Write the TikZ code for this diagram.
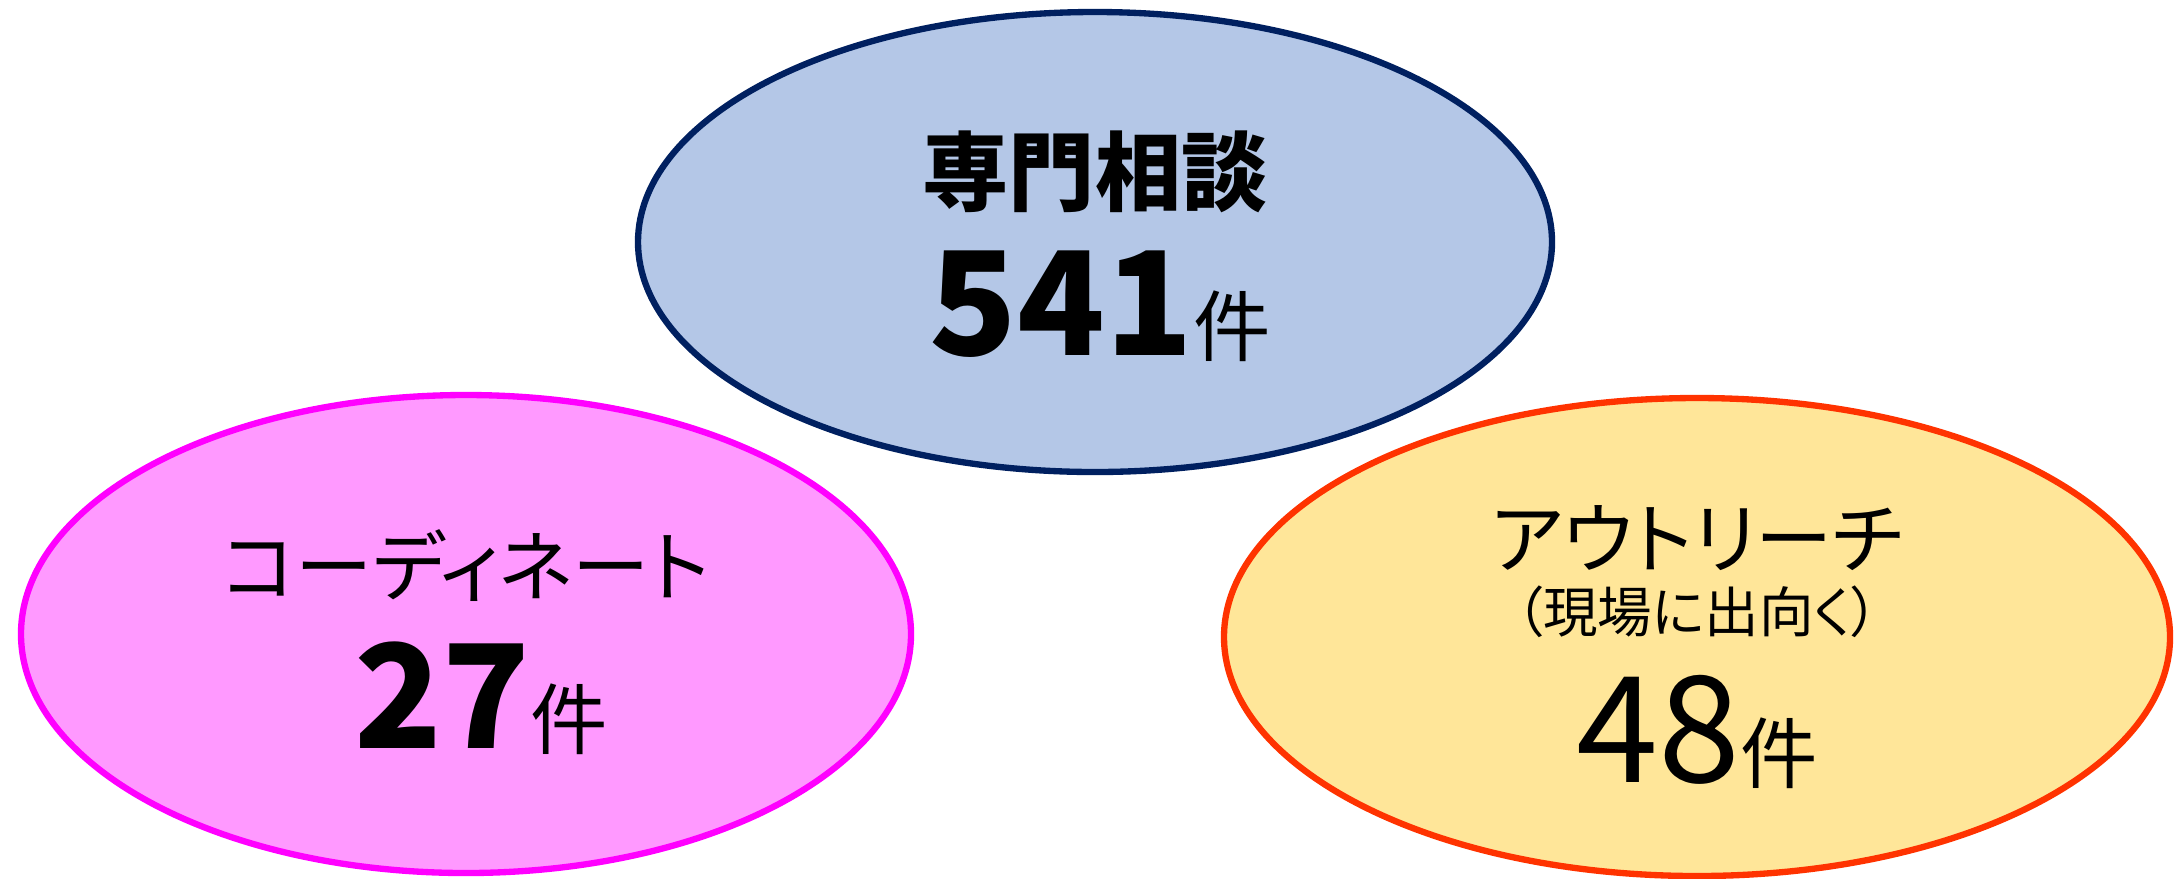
\documentclass[tikz,border=0pt]{standalone}
\usepackage{fontspec}
\setmainfont[RawFeature={+palt}]{Noto Sans CJK JP}
\usepackage{tikz}
\usetikzlibrary{calc}

\definecolor{navyline}{HTML}{002060}
\definecolor{bluefill}{HTML}{B4C7E7}
\definecolor{pinkline}{HTML}{FF00FF}
\definecolor{pinkfill}{HTML}{FF99FF}
\definecolor{redline}{HTML}{FF3300}
\definecolor{sandfill}{HTML}{FFE699}

\newcommand{\kenmark}{{\mdseries\fontsize{22}{22}\selectfont 件}}

\begin{document}
\begin{tikzpicture}[x=0.01cm,y=-0.01cm,
  blob/.style={line width=1.8pt},
  head/.style={inner sep=0pt,font=\bfseries\fontsize{24.5}{24.5}\selectfont},
  sub/.style={inner sep=0pt,font=\fontsize{22}{22}\selectfont},
  note/.style={inner sep=0pt,font=\fontsize{15.5}{15.5}\selectfont},
  count/.style={inner sep=0pt,anchor=base,font=\bfseries\fontsize{41}{41}\selectfont}]
\useasboundingbox (0,0) rectangle (2180,878);
% three areas
\draw[blob,draw=navyline,fill=bluefill] (1095,242) ellipse [x radius=457, y radius=230];
\draw[blob,draw=pinkline,fill=pinkfill] (466,634) ellipse [x radius=445, y radius=239];
\draw[blob,draw=redline,fill=sandfill] (1697,637) ellipse [x radius=473, y radius=239];
% top
\node[head] (senmon) at (1095,172) {専門相談};
\node[count] (n541) at (1100,355) {541\kenmark};
% left
\node[sub] (coord) at (466,566) {コーディネート};
\node[count] (n27) at (481,748) {27\kenmark};
% right
\node[sub] (outreach) at (1697,538) {アウトリーチ};
\node[note] (genba) at (1697,612) {（現場に出向く）};
\node[count,font=\mdseries\fontsize{42}{42}\selectfont] (n48) at (1697,782) {48\kenmark};
\end{tikzpicture}
\end{document}
